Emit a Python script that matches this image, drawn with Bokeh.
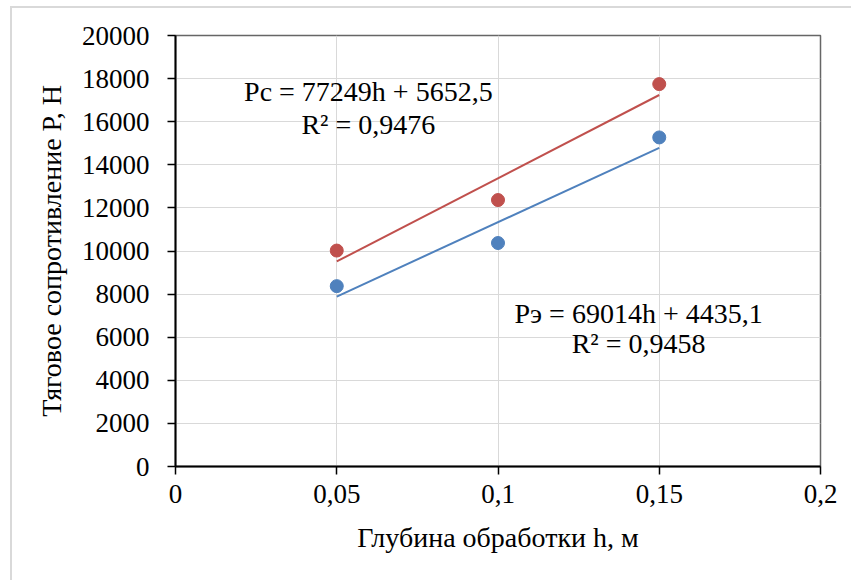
import numpy as np
from bokeh.plotting import figure
from bokeh.models import FixedTicker, Label
from bokeh.embed import file_html
from bokeh.resources import INLINE

# data
depth_h = [0.05, 0.10, 0.15]
force_calc = [10020, 12365, 17745]   # Pc (red)
force_exp = [8370, 10370, 15270]     # Pэ (blue)

x_ticks = [0, 0.05, 0.1, 0.15, 0.2]
x_tick_labels = ["0", "0,05", "0,1", "0,15", "0,2"]
y_ticks = [0, 2000, 4000, 6000, 8000, 10000, 12000, 14000, 16000, 18000, 20000]
y_tick_labels = ["0", "2000", "4000", "6000", "8000", "10000", "12000", "14000", "16000", "18000", "20000"]

eq_calc = ["Pc = 77249h + 5652,5", "R² = 0,9476"]
eq_exp = ["Pэ = 69014h + 4435,1", "R² = 0,9458"]

RED = "#C0504D"
BLUE = "#4F81BD"
FONT = "Liberation Serif"

p = figure(frame_width=645, frame_height=431,
           x_range=(0, 0.2), y_range=(0, 20000),
           output_backend="svg", toolbar_location=None,
           min_border_left=163, min_border_top=27, min_border_right=31, min_border_bottom=114)
p.styles = {"margin-left": "10px", "margin-top": "6px",
            "border-left": "2px solid #d9d9d9", "border-top": "2px solid #d9d9d9"}

p.outline_line_color = "#666666"
p.outline_line_width = 1.5
p.background_fill_color = "white"
p.border_fill_color = "white"

for ax in (p.xaxis[0], p.yaxis[0]):
    ax.axis_line_color = "black"
    ax.axis_line_width = 2
    ax.major_tick_line_color = "black"
    ax.major_tick_line_width = 1.5
    ax.major_tick_in = 0
    ax.major_tick_out = 8
    ax.minor_tick_line_color = None
    ax.major_label_text_font = FONT
    ax.major_label_text_font_size = "27px"
    ax.major_label_text_color = "#000000"
    ax.axis_label_text_font = FONT
    ax.axis_label_text_font_size = "28px"
    ax.axis_label_text_font_style = "normal"
    ax.axis_label_text_color = "#000000"

p.xaxis.ticker = FixedTicker(ticks=x_ticks)
p.xaxis.major_label_overrides = {t: l for t, l in zip(x_ticks, x_tick_labels)}
p.yaxis.ticker = FixedTicker(ticks=y_ticks)
p.yaxis.major_label_overrides = {t: l for t, l in zip(y_ticks, y_tick_labels)}
p.xaxis.major_label_standoff = 10
p.yaxis.major_label_standoff = 18
p.xaxis.axis_label = "Глубина обработки h, м"
p.yaxis.axis_label = "Тяговое сопротивление Р, Н"
p.xaxis.axis_label_standoff = 16
p.yaxis.axis_label_standoff = 12

p.xgrid.ticker = FixedTicker(ticks=x_ticks)
p.ygrid.ticker = FixedTicker(ticks=y_ticks)
p.grid.grid_line_color = "#d9d9d9"
p.grid.grid_line_width = 1

# trend lines (least-squares fits of the data)
xs = np.array(depth_h)
for ys, col in ((force_calc, RED), (force_exp, BLUE)):
    k, b = np.polyfit(xs, np.array(ys), 1)
    p.line([xs[0], xs[-1]], [k * xs[0] + b, k * xs[-1] + b], line_color=col, line_width=2)

p.scatter(depth_h, force_calc, size=13, fill_color=RED, line_color=RED)
p.scatter(depth_h, force_exp, size=13, fill_color=BLUE, line_color=BLUE)

# equation labels
for i, t in enumerate(eq_calc):
    p.add_layout(Label(x=0.0598, y=17400 - i * 1550, text=t, text_font=FONT, text_font_size="28px",
                       text_align="center", text_baseline="middle", text_color="black"))
for i, t in enumerate(eq_exp):
    p.add_layout(Label(x=0.1436, y=7100 - i * 1400, text=t, text_font=FONT, text_font_size="28px",
                       text_align="center", text_baseline="middle", text_color="black"))

open("out.html", "w").write(file_html(p, INLINE))
